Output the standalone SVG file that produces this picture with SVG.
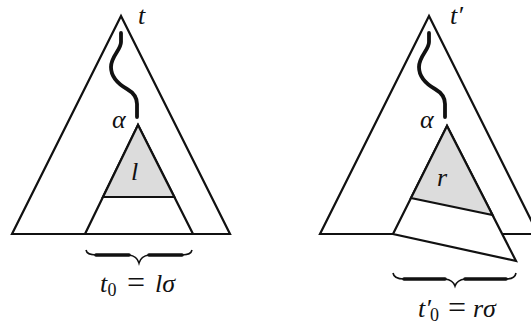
<svg xmlns="http://www.w3.org/2000/svg" width="531" height="324" viewBox="0 0 531 324">
<style>
.edge{fill:#fff;stroke:#111;stroke-width:2.2;stroke-linejoin:miter}
.gray{fill:#dcdcdc;stroke:#111;stroke-width:2.2;stroke-linejoin:miter}
.sq{fill:none;stroke:#111;stroke-width:3.8;stroke-linecap:round}
.hook{fill:none;stroke:#111;stroke-width:1.6}
.bar{fill:none;stroke:#111;stroke-width:3.6;stroke-linecap:round}
.m{font-family:"Liberation Serif",serif;font-style:italic;font-size:26px;fill:#111}
.n{font-family:"Liberation Serif",serif;font-style:normal;fill:#111}
.sub{font-size:18px}
.eq{font-size:32px}
</style>
<defs>
<path id="squig" d="M121,33 L121,42 C121,50 111,56 111,67 C111,78 120,85 127,89 C134,93 137,97 137,104 L137,117"/>
</defs>
<g id="tree-left">
<polygon class="edge" points="121,16 12,234 230,234"/>
<polygon class="edge" points="138,125 85,234 193,234"/>
<polygon class="gray" points="138,125 103,197 174.3,197"/>
<text class="m" x="138" y="24">t</text>
<text class="m" x="112" y="128">α</text>
<text class="m" x="131" y="180">l</text>
<path class="hook" d="M86,250 Q87,255 96,255 M182,255 Q191,255 192,250 M129,255 Q137,256 139,263 Q141,256 149,255"/>
<path class="bar" d="M96,255 L129,255 M149,255 L182,255"/>
<text class="m" x="100" y="292">t<tspan class="n sub" x="107.5" y="296">0</tspan><tspan class="n eq" x="127" y="293">=</tspan><tspan x="155" y="292">lσ</tspan></text>
</g>
<g id="tree-right">
<polygon class="edge" points="429,16 320,234 538,234"/>
<polygon class="edge" points="447,126 393,234 516,261"/>
<polygon class="gray" points="447,126 411,198 492.5,215"/>
<text class="m" x="450" y="24">t′</text>
<text class="m" x="420" y="128">α</text>
<text class="m" x="437" y="186">r</text>
<path class="hook" d="M393,273 Q394,279 404,279 M506,279 Q515,279 516,273 M445,279 Q453,280 455,286 Q457,280 465,279"/>
<path class="bar" d="M404,279 L445,279 M465,279 L506,279"/>
<text class="m" x="418" y="317">t′<tspan class="n sub" x="430" y="321">0</tspan><tspan class="n eq" x="448" y="318">=</tspan><tspan x="473" y="317">rσ</tspan></text>
</g>
<g id="connectors">
<use href="#squig" class="sq"/>
<use href="#squig" class="sq" transform="translate(308,0)"/>
</g>
</svg>
